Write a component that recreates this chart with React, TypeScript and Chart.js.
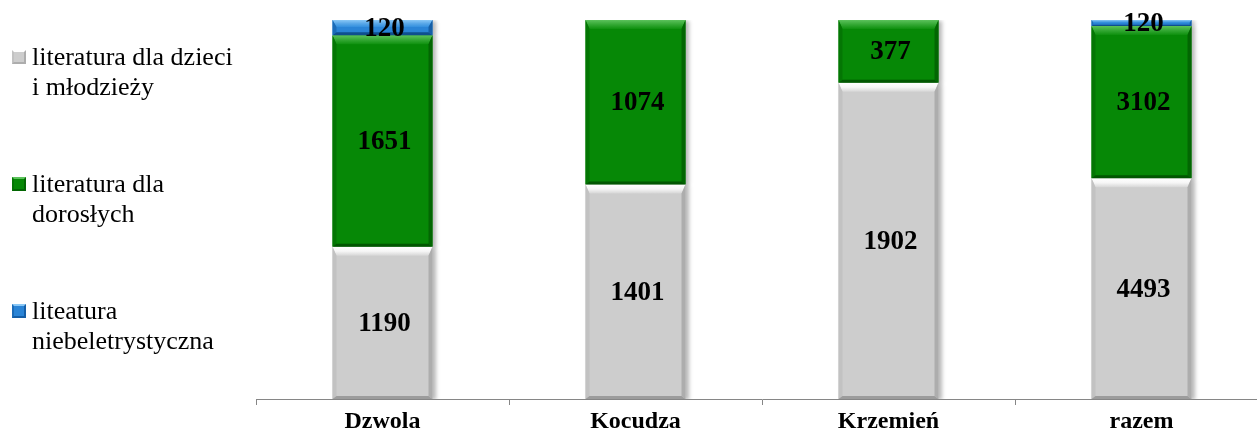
import React, { useEffect, useRef } from "react";
import { Chart, registerables } from "chart.js";

Chart.register(...registerables);

const categories: string[] = ["Dzwola", "Kocudza", "Krzemień", "razem"];
const seriesNames: string[] = [
  "literatura dla dzieci\ni młodzieży",
  "literatura dla\ndorosłych",
  "liteatura\nniebeletrystyczna",
];
const childrenValues: number[] = [1190, 1401, 1902, 4493];
const adultValues: number[] = [1651, 1074, 377, 3102];
const nonFictionValues: (number | null)[] = [120, null, null, 120];

const seriesColors = [
  { base: "#cdcdcd", top: "#ffffff", mid: "#f6f6f6", top2: "#d6d6d6", left: "#c2c2c2", right: "#adadad", bottom: "#9c9c9c" },
  { base: "#068806", top: "#5cc25c", mid: "#34a834", top2: "#0e900e", left: "#047604", right: "#026602", bottom: "#015601" },
  { base: "#2a84d6", top: "#8ac8f6", mid: "#5aa8e8", top2: "#3490de", left: "#1c6cb8", right: "#155ea6", bottom: "#0f4f8e" },
];

const rawSeries = [childrenValues, adultValues, nonFictionValues];

const bevelPlugin = {
  id: "bevelLabels",
  beforeDatasetsDraw(chart: any) {
    const ctx = chart.ctx;
    ctx.save();
    ctx.shadowColor = "rgba(0,0,0,0.28)";
    ctx.shadowBlur = 4;
    ctx.shadowOffsetX = 3;
    ctx.shadowOffsetY = 1;
  },
  afterDatasetsDraw(chart: any) {
    const ctx = chart.ctx;
    ctx.restore();
    chart.data.datasets.forEach((ds: any, di: number) => {
      const meta = chart.getDatasetMeta(di);
      const c = seriesColors[di];
      meta.data.forEach((bar: any, i: number) => {
        const raw = rawSeries[di][i];
        if (raw == null) return;
        const p = bar.getProps(["x", "y", "base", "width"], true);
        const L = p.x - p.width / 2;
        const R = p.x + p.width / 2;
        const T = Math.min(p.y, p.base);
        const B = Math.max(p.y, p.base);
        const h = B - T;
        const st = Math.min(9, h * 0.45);
        const sb = Math.min(3, h * 0.2);
        const sx = Math.min(4, h * 0.3);
        // top bevel
        const g = ctx.createLinearGradient(0, T, 0, T + st);
        g.addColorStop(0, c.top);
        g.addColorStop(0.5, c.mid);
        g.addColorStop(1, c.top2);
        ctx.fillStyle = g;
        ctx.beginPath();
        ctx.moveTo(L, T);
        ctx.lineTo(R, T);
        ctx.lineTo(R - sx, T + st);
        ctx.lineTo(L + sx, T + st);
        ctx.closePath();
        ctx.fill();
        // left
        ctx.fillStyle = c.left;
        ctx.beginPath();
        ctx.moveTo(L, T);
        ctx.lineTo(L + sx, T + st);
        ctx.lineTo(L + sx, B - sb);
        ctx.lineTo(L, B);
        ctx.closePath();
        ctx.fill();
        // right
        ctx.fillStyle = c.right;
        ctx.beginPath();
        ctx.moveTo(R, T);
        ctx.lineTo(R - sx, T + st);
        ctx.lineTo(R - sx, B - sb);
        ctx.lineTo(R, B);
        ctx.closePath();
        ctx.fill();
        // bottom
        ctx.fillStyle = c.bottom;
        ctx.beginPath();
        ctx.moveTo(L, B);
        ctx.lineTo(R, B);
        ctx.lineTo(R - sx, B - sb);
        ctx.lineTo(L + sx, B - sb);
        ctx.closePath();
        ctx.fill();
      });
    });
    // labels
    ctx.save();
    ctx.font = "bold 27px 'Liberation Serif', 'Times New Roman', serif";
    ctx.fillStyle = "#000000";
    ctx.textAlign = "center";
    ctx.textBaseline = "middle";
    chart.data.datasets.forEach((ds: any, di: number) => {
      const meta = chart.getDatasetMeta(di);
      meta.data.forEach((bar: any, i: number) => {
        const raw = rawSeries[di][i];
        if (raw == null) return;
        const p = bar.getProps(["x", "y", "base"], true);
        ctx.fillText(String(raw), p.x + 2, (p.y + p.base) / 2 + 1);
      });
    });
    ctx.restore();
  },
};

export default function App() {
  const canvasRef = useRef<HTMLCanvasElement | null>(null);

  useEffect(() => {
    const canvas = canvasRef.current;
    if (!canvas) return;
    const totals = categories.map((_, i) =>
      rawSeries.reduce((s, arr) => s + (arr[i] ?? 0), 0)
    );
    const datasets = rawSeries.map((arr, di) => ({
      label: seriesNames[di],
      data: arr.map((v, i) => (v == null ? null : (v / totals[i]) * 100)),
      backgroundColor: seriesColors[di].base,
      borderWidth: 0,
      barPercentage: 100 / 253,
      categoryPercentage: 1,
      stack: "s",
    }));
    const chart = new Chart(canvas, {
      type: "bar",
      data: { labels: categories, datasets },
      options: {
        animation: false,
        responsive: false,
        devicePixelRatio: 1,
        layout: { padding: { left: 256, right: 22, top: 20, bottom: 0 } },
        plugins: { legend: { display: false }, tooltip: { enabled: false } },
        scales: {
          x: {
            stacked: true,
            offset: true,
            afterFit: (scale: any) => {
              scale.height = 40;
            },
            grid: {
              display: true,
              offset: true,
              drawOnChartArea: false,
              drawTicks: true,
              tickLength: 6,
              color: "#868686",
            },
            border: { display: true, color: "#868686", width: 1 },
            ticks: {
              padding: 2,
              color: "#000000",
              font: { family: "'Liberation Serif', 'Times New Roman', serif", size: 24, weight: "bold" },
            },
          },
          y: {
            stacked: true,
            display: false,
            min: 0,
            max: 100,
          },
        },
      },
      plugins: [bevelPlugin],
    });
    return () => chart.destroy();
  }, []);

  const legendTops = [42, 169, 296];

  return (
    <div
      style={{
        position: "fixed",
        left: 0,
        top: 0,
        width: 1257,
        height: 439,
        overflow: "hidden",
        background: "#ffffff",
      }}
    >
      <canvas
        ref={canvasRef}
        width={1290}
        height={439}
        style={{ position: "absolute", left: 0, top: 0, width: 1290, height: 439 }}
      />
      {seriesNames.map((name, i) => (
        <div
          key={i}
          style={{
            position: "absolute",
            left: 12,
            top: legendTops[i],
            display: "flex",
            alignItems: "flex-start",
            fontFamily: "'Liberation Serif', 'Times New Roman', serif",
            fontSize: 26,
            lineHeight: "30px",
            color: "#000",
          }}
        >
          <div
            style={{
              width: 14,
              height: 14,
              marginTop: 8,
              marginRight: 6,
              boxSizing: "border-box",
              border: `2px solid ${seriesColors[i].right}`,
              borderTopColor: seriesColors[i].top,
              borderLeftColor: seriesColors[i].left,
              background: seriesColors[i].base,
              flex: "none",
            }}
          />
          <div style={{ whiteSpace: "pre-line" }}>{name}</div>
        </div>
      ))}
    </div>
  );
}
